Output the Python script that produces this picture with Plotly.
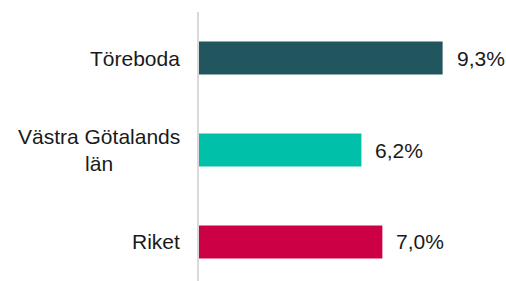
import plotly.graph_objects as go

categories = ["Töreboda", "Västra Götalands<br>län", "Riket"]
values = [9.3, 6.2, 7.0]
value_labels = ["9,3%", "6,2%", "7,0%"]
colors = ["#21565F", "#00C0A9", "#CC0044"]

FONT = "Arial, Liberation Sans, sans-serif"

fig = go.Figure(
    go.Bar(
        x=values,
        y=list(range(len(categories))),
        orientation="h",
        marker=dict(color=colors, line=dict(width=0)),
        width=0.36,
        hoverinfo="skip",
    )
)

annotations = []
for i, (v, lab) in enumerate(zip(values, value_labels)):
    annotations.append(dict(
        x=v, y=i, xref="x", yref="y", text=lab, showarrow=False,
        xanchor="left", yanchor="middle", xshift=12, yshift=0,
        font=dict(family=FONT, size=21, color="#1a1a1a"),
    ))
for i, cat in enumerate(categories):
    annotations.append(dict(
        x=0, y=i, xref="paper", yref="y", text=cat, showarrow=False,
        xanchor="right", yanchor="middle", xshift=-17, align="center",
        font=dict(family=FONT, size=21, color="#1a1a1a"),
    ))

fig.update_layout(
    width=506, height=281,
    margin=dict(l=199, r=0, t=12, b=0),
    paper_bgcolor="white", plot_bgcolor="white",
    showlegend=False,
    annotations=annotations,
    xaxis=dict(range=[0, 11.72], visible=False, fixedrange=True),
    yaxis=dict(
        range=[2.424, -0.5], showticklabels=False, showgrid=False,
        zeroline=False, showline=True, linecolor="#D9D9D9", linewidth=2,
        ticks="", fixedrange=True,
    ),
)

fig.write_html(
    "out.html",
    config={"displayModeBar": False, "staticPlot": True},
    post_script="document.body.style.margin='0';document.body.style.overflow='hidden';",
)
